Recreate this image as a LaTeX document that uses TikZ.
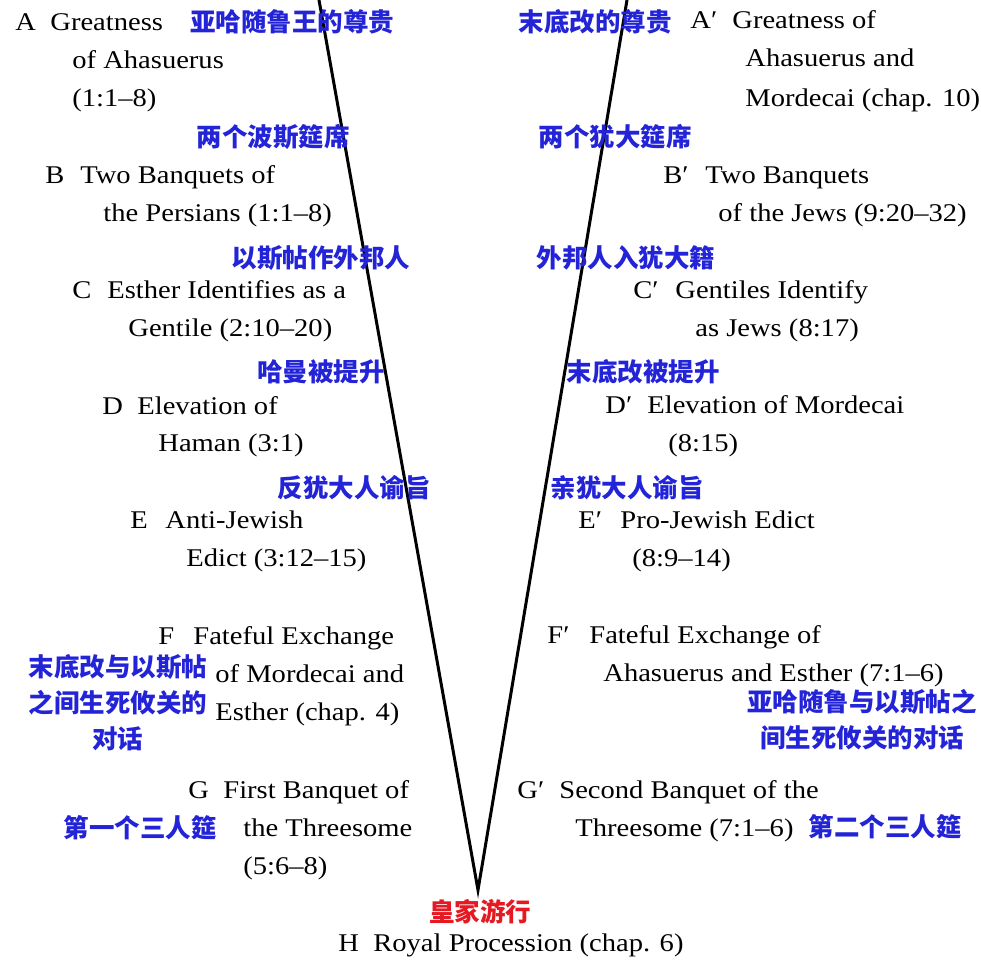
\documentclass[tikz,border=0pt]{standalone}
\usepackage{fontspec}
\setmainfont{Liberation Serif}[FakeStretch=1.12]
\newfontfamily\cnfont{Noto Sans CJK SC}
\definecolor{cnblue}{RGB}{35,35,215}
\definecolor{cnred}{RGB}{230,25,35}
\newcommand{\lett}[1]{\makebox[17.5pt][l]{#1}}
\newcommand{\lettp}[1]{\makebox[21pt][l]{#1}}
\begin{document}
\begin{tikzpicture}[x=0.5pt,y=-0.5pt,
  en/.style={anchor=base west,inner sep=0,font=\fontsize{12.75}{19}\selectfont},
  cn/.style={inner sep=0,align=center,font=\cnfont\bfseries\fontsize{12.75}{18}\selectfont,text=cnblue},
  vline/.style={line width=1.5pt,line join=miter,black}]
\useasboundingbox (0,0) rectangle (981,960);
% V
\coordinate (lt) at (319,0);
\coordinate (rt) at (627,0);
\coordinate (v) at (478,890);
\draw[vline] (lt) -- (v) -- (rt);
% left entries
\node[en] (a1) at (15,30) {\lett{A}Greatness};
\node[en] (a2) at (72,68) {of Ahasuerus};
\node[en] (a3) at (72,106) {(1:1–8)};
\node[en] (b1) at (45,183) {\lett{B}Two Banquets of};
\node[en] (b2) at (103,221) {the Persians (1:1–8)};
\node[en] (c1) at (72,298) {\lett{C}Esther Identifies as a};
\node[en] (c2) at (128,336) {Gentile (2:10–20)};
\node[en] (d1) at (102,414) {\lett{D}Elevation of};
\node[en] (d2) at (158,451) {Haman (3:1)};
\node[en] (e1) at (130,528) {\lett{E}Anti-Jewish};
\node[en] (e2) at (186,566) {Edict (3:12–15)};
\node[en] (f1) at (158,644) {\lett{F}Fateful Exchange};
\node[en] (f2) at (215,682) {of Mordecai and};
\node[en] (f3) at (215,720) {Esther (chap. 4)};
\node[en] (g1) at (188,798) {\lett{G}First Banquet of};
\node[en] (g2) at (243,836) {the Threesome};
\node[en] (g3) at (243,874) {(5:6–8)};
% right entries
\node[en] (ap1) at (690,28) {\lettp{A′}Greatness of};
\node[en] (ap2) at (745,66) {Ahasuerus and};
\node[en] (ap3) at (745,106) {Mordecai (chap. 10)};
\node[en] (bp1) at (663,183) {\lettp{B′}Two Banquets};
\node[en] (bp2) at (718,221) {of the Jews (9:20–32)};
\node[en] (cp1) at (633,298) {\lettp{C′}Gentiles Identify};
\node[en] (cp2) at (695,336) {as Jews (8:17)};
\node[en] (dp1) at (605,413) {\lettp{D′}Elevation of Mordecai};
\node[en] (dp2) at (668,451) {(8:15)};
\node[en] (ep1) at (578,528) {\lettp{E′}Pro-Jewish Edict};
\node[en] (ep2) at (632,566) {(8:9–14)};
\node[en] (fp1) at (547,643) {\lettp{F′}Fateful Exchange of};
\node[en] (fp2) at (603,681) {Ahasuerus and Esther (7:1–6)};
\node[en] (gp1) at (517,798) {\lettp{G′}Second Banquet of the};
\node[en] (gp2) at (575,836) {Threesome (7:1–6)};
\node[en] (h1) at (338,951) {\lett{H}Royal Procession (chap. 6)};
% chinese labels
\node[cn] (ca) at (292,22) {亚哈随鲁王的尊贵};
\node[cn] (cap) at (595,22) {末底改的尊贵};
\node[cn] (cb) at (273,137) {两个波斯筵席};
\node[cn] (cbp) at (615,137) {两个犹大筵席};
\node[cn] (cc) at (321,258) {以斯帖作外邦人};
\node[cn] (ccp) at (626,258) {外邦人入犹大籍};
\node[cn] (cd) at (321,372) {哈曼被提升};
\node[cn] (cdp) at (643,372) {末底改被提升};
\node[cn] (ce) at (354,488) {反犹大人谕旨};
\node[cn] (cep) at (627,488) {亲犹大人谕旨};
\node[cn] (cf) at (118,703) {末底改与以斯帖\\之间生死攸关的\\对话};
\node[cn] (cfp) at (862,720) {亚哈随鲁与以斯帖之\\间生死攸关的对话};
\node[cn] (cg) at (140,828) {第一个三人筵};
\node[cn] (cgp) at (885,827) {第二个三人筵};
\node[cn,text=cnred] (ch) at (480,912) {皇家游行};
\end{tikzpicture}
\end{document}
